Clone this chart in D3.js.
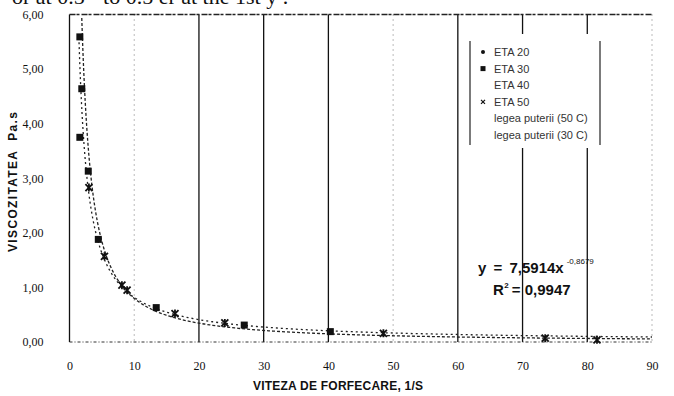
<!DOCTYPE html>
<html>
<head>
<meta charset="utf-8">
<script src="https://cdn.jsdelivr.net/npm/d3@7/dist/d3.min.js"></script>
<style>
  body { margin: 0; background: #fff; }
  svg { display: block; }
</style>
</head>
<body>
<div id="chart"></div>
<script>
// values
var xTicks = [0, 10, 20, 30, 40, 50, 60, 70, 80, 90];
var yTicks = [0, 1, 2, 3, 4, 5, 6];
var legendNames = ['ETA 20', 'ETA 30', 'ETA 40', 'ETA 50', 'legea puterii (50 C)', 'legea puterii (30 C)'];

// shear rate (1/s) / viscosity (Pa.s)
var eta20 = [];
var eta30 = [[1.6, 5.59], [1.9, 4.64], [1.6, 3.75], [2.9, 3.13], [4.45, 1.88], [13.4, 0.63], [27.0, 0.31], [40.3, 0.19]];
var eta40 = [];
var eta50 = [[3.0, 2.83], [5.4, 1.57], [8.1, 1.04], [8.9, 0.95], [16.3, 0.52], [24.0, 0.35], [48.5, 0.16], [73.5, 0.07], [81.5, 0.04]];

var eqText = 'y = 7,5914x';
var eqExp = '-0,8679';
var r2Text = '= 0,9947';
var topLine = 'or at 0.5 \u00b7 to 0.5 er at the 1st y .';

var width = 674, height = 396;
var svg = d3.select('#chart').append('svg').attr('width', width).attr('height', height);

var x = d3.scaleLinear().domain([0, 90]).range([69.5, 652]);
var y = d3.scaleLinear().domain([0, 6]).range([342, 14.5]);

// cut-off line of text from the page above the figure
svg.append('text').attr('x', 12).attr('y', 4)
    .style('font', '22px "Liberation Serif"').attr('fill', '#111')
    .text(topLine);

// vertical grid
var solidGrid = [20, 30, 40, 60, 70, 80];
var grid = svg.append('g');
xTicks.slice(1).forEach(function(v) {
    var solid = solidGrid.indexOf(v) >= 0;
    grid.append('line')
        .attr('x1', x(v)).attr('x2', x(v))
        .attr('y1', y(6)).attr('y2', y(0))
        .attr('stroke', solid ? '#111' : '#777')
        .attr('stroke-width', solid ? 1.3 : 1)
        .attr('stroke-dasharray', solid ? null : '1,4');
});

// frame: left axis solid, top and bottom ragged
svg.append('line').attr('x1', x(0)).attr('x2', x(0)).attr('y1', y(6)).attr('y2', y(0))
    .attr('stroke', '#111').attr('stroke-width', 1.3);
svg.append('line').attr('x1', x(0)).attr('x2', x(90)).attr('y1', y(6)).attr('y2', y(6))
    .attr('stroke', '#222').attr('stroke-width', 1.6).attr('stroke-dasharray', '6,1,3,2');
svg.append('line').attr('x1', x(0)).attr('x2', x(90)).attr('y1', y(0)).attr('y2', y(0))
    .attr('stroke', '#333').attr('stroke-width', 1).attr('stroke-dasharray', '3,2,1,2');

// axes (labels only)
var fmt = function(d) { return d3.format('.2f')(d).replace('.', ','); };
var gx = svg.append('g').attr('transform', 'translate(0,' + (y(0) + 16) + ')')
    .call(d3.axisBottom(x).tickValues(xTicks).tickSize(0).tickFormat(d3.format('d')));
var gy = svg.append('g').attr('transform', 'translate(' + (x(0) - 23) + ',0)')
    .call(d3.axisLeft(y).tickValues(yTicks).tickSize(0).tickFormat(fmt));
[gx, gy].forEach(function(g) {
    g.select('.domain').remove();
    g.selectAll('text').style('font', '12px "Liberation Serif"').attr('fill', '#111');
});

// axis titles
svg.append('text').attr('x', 338).attr('y', 390).attr('text-anchor', 'middle')
    .style('font', 'bold 12px "Liberation Sans"').attr('fill', '#111')
    .attr('textLength', 170).attr('lengthAdjust', 'spacing')
    .text('VITEZA DE FORFECARE, 1/S');
svg.append('text').attr('transform', 'translate(17,182) rotate(-90)').attr('text-anchor', 'middle')
    .style('font', 'bold 12px "Liberation Sans"').attr('fill', '#111')
    .attr('xml:space', 'preserve')
    .attr('textLength', 140).attr('lengthAdjust', 'spacing')
    .text('VISCOZITATEA  Pa.s');

// power law trendlines, fitted on log-log like the spreadsheet does
function powerFit(pts) {
    var lx = pts.map(function(p) { return Math.log(p[0]); });
    var ly = pts.map(function(p) { return Math.log(p[1]); });
    var mx = d3.mean(lx), my = d3.mean(ly), sxy = 0, sxx = 0;
    lx.forEach(function(v, i) { sxy += (v - mx) * (ly[i] - my); sxx += (v - mx) * (v - mx); });
    var b = sxy / sxx;
    return { a: Math.exp(my - b * mx), b: b };
}
var line = d3.line().x(function(d) { return x(d[0]); }).y(function(d) { return y(d[1]); });
[eta50, eta30].forEach(function(pts, i) {
    var f = powerFit(pts);
    var xs = d3.range(0, 1.0001, 0.005).map(function(t) { return 1.45 * Math.pow(90 / 1.45, t); });
    var curve = xs.map(function(v) { return [v, f.a * Math.pow(v, f.b)]; })
        .filter(function(p) { return p[1] <= 6; });
    svg.append('path').datum(curve).attr('d', line).attr('fill', 'none')
        .attr('stroke', '#222').attr('stroke-width', 1.3)
        .attr('stroke-dasharray', i == 0 ? '3,2' : '2,3');
});

// markers
var starPath = 'M-3.5,-3.5L3.5,3.5M-3.5,3.5L3.5,-3.5M0,-4L0,4';
svg.append('g').selectAll('rect').data(eta30).enter().append('rect')
    .attr('x', function(d) { return x(d[0]) - 3.5; }).attr('y', function(d) { return y(d[1]) - 3.5; })
    .attr('width', 7).attr('height', 7).attr('fill', '#111');
svg.append('g').selectAll('path').data(eta50).enter().append('path')
    .attr('transform', function(d) { return 'translate(' + x(d[0]) + ',' + y(d[1]) + ')'; })
    .attr('d', starPath).attr('stroke', '#111').attr('stroke-width', 1.8).attr('fill', 'none');
svg.append('g').selectAll('circle').data(eta20).enter().append('circle')
    .attr('cx', function(d) { return x(d[0]); }).attr('cy', function(d) { return y(d[1]); })
    .attr('r', 2.5).attr('fill', '#111');

// legend, white box hides the grid behind it
var lg = svg.append('g');
lg.append('rect').attr('x', 466).attr('y', 34).attr('width', 138).attr('height', 114).attr('fill', '#fff');
lg.append('line').attr('x1', 470).attr('x2', 470).attr('y1', 41).attr('y2', 145).attr('stroke', '#222').attr('stroke-width', 1.2);
lg.append('line').attr('x1', 600).attr('x2', 600).attr('y1', 41).attr('y2', 145).attr('stroke', '#222').attr('stroke-width', 1.2);
legendNames.forEach(function(name, i) {
    var cy = 52 + i * 16.6;
    lg.append('text').attr('x', 494).attr('y', cy + 4)
        .style('font', '11px "Liberation Sans"').attr('fill', '#333').text(name);
    if (i == 0) {
        lg.append('circle').attr('cx', 483).attr('cy', cy).attr('r', 2).attr('fill', '#111');
    } else if (i == 1) {
        lg.append('rect').attr('x', 480.5).attr('y', cy - 2.5).attr('width', 5).attr('height', 5).attr('fill', '#111');
    } else if (i == 3) {
        lg.append('path').attr('transform', 'translate(483,' + cy + ')')
            .attr('d', 'M-2,-2L2,2M-2,2L2,-2').attr('stroke', '#111').attr('stroke-width', 1.2);
    }
});

// equation of the trendline
var eqFont = 'bold 15px "Liberation Sans"';
var eqMain = svg.append('text').attr('x', 478).attr('y', 273).style('font', eqFont).attr('fill', '#111')
    .style('word-spacing', '3px').text(eqText);
var eqEnd = 478 + eqMain.node().getComputedTextLength() + 3;
svg.append('text').attr('x', eqEnd).attr('y', 264).style('font', '8px "Liberation Sans"').attr('fill', '#111')
    .text(eqExp);
var rMain = svg.append('text').attr('x', 493).attr('y', 295).style('font', eqFont).attr('fill', '#111').text('R');
var rEnd = 493 + rMain.node().getComputedTextLength();
svg.append('text').attr('x', rEnd + 0.5).attr('y', 288).style('font', 'bold 8px "Liberation Sans"').attr('fill', '#111').text('2');
svg.append('text').attr('x', rEnd + 8).attr('y', 295).style('font', eqFont).attr('fill', '#111')
    .text(r2Text);
</script>
</body>
</html>
